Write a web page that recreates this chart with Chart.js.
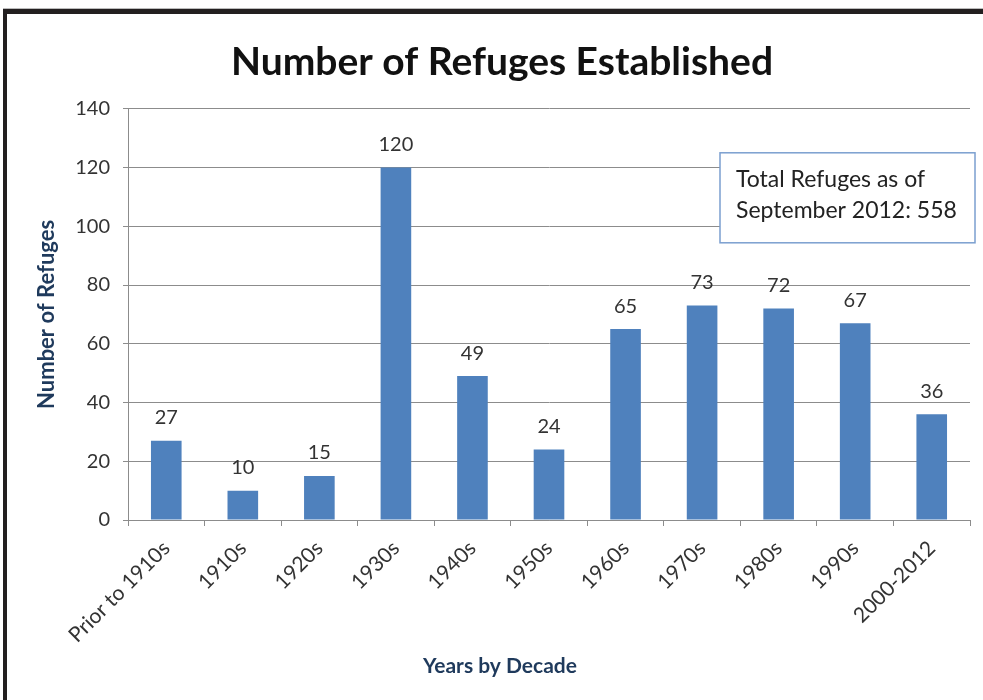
<!DOCTYPE html>
<html>
<head>
<meta charset="utf-8">
<script src="https://cdn.jsdelivr.net/npm/chart.js@4"></script>
<style>
  html, body { margin: 0; padding: 0; background: #fff; }
  #wrap { position: relative; width: 983px; height: 700px; overflow: hidden; }
  #frame {
    position: absolute; left: 3px; top: 8px; width: 1200px; height: 900px;
    border-top: 1px solid #bbb;
  }
  #frame::after {
    content: ''; position: absolute; left: 0; top: 0; right: 0; bottom: 0;
    border-left: 4px solid #231f20; border-top: 5px solid #231f20;
  }
  canvas { position: absolute; left: 0; top: 0; }
</style>
</head>
<body>
<div id="wrap">
  <div id="frame"></div>
  <canvas id="grafico" width="983" height="700"></canvas>
</div>
<script>
const categorias = ['Prior to 1910s', '1910s', '1920s', '1930s', '1940s', '1950s', '1960s', '1970s', '1980s', '1990s', '2000-2012'];
const refugios = [27, 10, 15, 120, 49, 24, 65, 73, 72, 67, 36];
const ticksY = [0, 20, 40, 60, 80, 100, 120, 140];
const notaTotal = ['Total Refuges as of', 'September 2012: 558'];
const tituloX = 'Years by Decade';

const fuente = 'Lato, "Open Sans", sans-serif';
const azulTitulo = '#1f3a5c';
const gris = '#8c8c8c';

// etiquetas encima de cada barra
const etiquetasBarras = {
  id: 'etiquetasBarras',
  afterDatasetsDraw(chart) {
    const { ctx } = chart;
    const meta = chart.getDatasetMeta(0);
    ctx.save();
    ctx.font = '20px ' + fuente;
    ctx.fillStyle = '#333';
    ctx.textAlign = 'center';
    ctx.textBaseline = 'middle';
    meta.data.forEach((barra, i) => {
      ctx.fillText(String(refugios[i]), barra.x, barra.y - 23);
    });
    ctx.restore();
  }
};

// recuadro con el total y titulo del eje x (centrado como el titulo)
const recuadroTotal = {
  id: 'recuadroTotal',
  afterDraw(chart) {
    const { ctx, chartArea } = chart;
    const x = chartArea.right - 250;
    const y = chartArea.top + 44;
    const w = 255;
    const h = 90;
    ctx.save();
    ctx.fillStyle = '#fff';
    ctx.fillRect(x, y, w, h);
    ctx.strokeStyle = '#7b9fcf';
    ctx.lineWidth = 1.5;
    ctx.strokeRect(x, y, w, h);
    ctx.font = '23px ' + fuente;
    ctx.fillStyle = '#222';
    ctx.textBaseline = 'middle';
    ctx.fillText(notaTotal[0], x + 16, y + 27);
    ctx.fillText(notaTotal[1], x + 16, y + 58);

    const bloque = chart.titleBlock;
    ctx.font = 'bold 21px ' + fuente;
    ctx.fillStyle = azulTitulo;
    ctx.textAlign = 'center';
    ctx.fillText(tituloX, (bloque.left + bloque.right) / 2 - 2, chart.height - 34);
    ctx.restore();
  }
};

new Chart(document.querySelector('#grafico'), {
  type: 'bar',
  data: {
    labels: categorias,
    datasets: [
      {
        label: 'Number of Refuges',
        data: refugios,
        backgroundColor: '#4f81bd',
        categoryPercentage: 0.8,
        barPercentage: 0.5
      }
    ]
  },
  options: {
    responsive: false,
    animation: false,
    events: [],
    layout: { padding: { left: 34, right: 13, top: 0, bottom: 0 } },
    plugins: {
      legend: { display: false },
      tooltip: { enabled: false },
      title: {
        display: true,
        text: 'Number of Refuges Established',
        color: '#111',
        font: { family: fuente, size: 39, weight: 'bold', lineHeight: 1.2 },
        padding: { top: 39, bottom: 23 }
      }
    },
    scales: {
      x: {
        grid: { drawOnChartArea: false, drawTicks: true, tickLength: 6, color: gris },
        border: { color: gris },
        ticks: {
          color: '#333',
          font: { family: fuente, size: 21 },
          minRotation: 45,
          maxRotation: 45,
          padding: 10
        },
        afterFit(escala) { escala.height = 180; }
      },
      y: {
        min: 0,
        max: 140,
        afterBuildTicks(escala) { escala.ticks = ticksY.map((v) => ({ value: v })); },
        grid: { color: gris, tickLength: 5 },
        border: { color: gris },
        ticks: {
          color: '#333',
          font: { family: fuente, size: 20 },
          padding: 13
        },
        title: {
          display: true,
          text: 'Number of Refuges',
          color: azulTitulo,
          font: { family: fuente, size: 22, weight: 'bold', lineHeight: 1.2 },
          padding: { top: 0, bottom: 0 }
        },
        afterFit(escala) { escala.width = 94; }
      }
    }
  },
  plugins: [etiquetasBarras, recuadroTotal]
});
</script>
</body>
</html>
